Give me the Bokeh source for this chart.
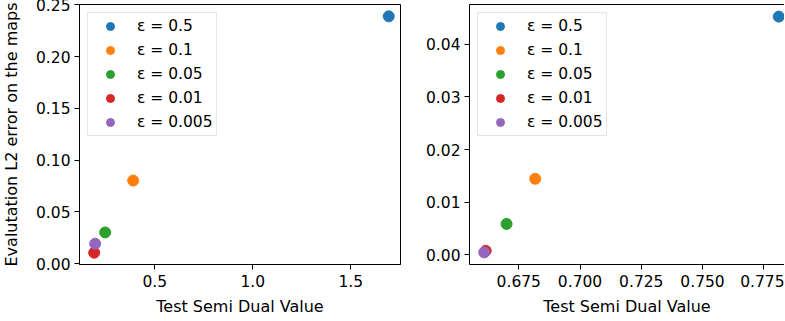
from bokeh.plotting import figure
from bokeh.layouts import row
from bokeh.models import Range1d, FixedTicker, PrintfTickFormatter, Legend, LegendItem, LinearAxis
from bokeh.embed import file_html
from bokeh.resources import INLINE

labels = ["ε = 0.5", "ε = 0.1", "ε = 0.05", "ε = 0.01", "ε = 0.005"]
colors = ["#1f77b4", "#ff7f0e", "#2ca02c", "#d62728", "#9467bd"]

left_x = [1.694, 0.390, 0.247, 0.191, 0.196]
left_y = [0.239, 0.0803, 0.0302, 0.0106, 0.0193]
right_x = [0.7811, 0.6817, 0.6700, 0.6615, 0.6609]
right_y = [0.04526, 0.01444, 0.00586, 0.00076, 0.00045]

left_xticks = [0.5, 1.0, 1.5]
left_yticks = [0.0, 0.05, 0.10, 0.15, 0.20, 0.25]
right_xticks = [0.675, 0.700, 0.725, 0.750, 0.775]
right_yticks = [0.00, 0.01, 0.02, 0.03, 0.04]

xlabel = "Test Semi Dual Value"
ylabel = "Evalutation L2 error on the maps"

FONT = "DejaVu Sans"
TICK_FS = "15.5px"
LAB_FS = "16px"


def style_axis(ax, ticks, fmt):
    ax.ticker = FixedTicker(ticks=ticks)
    ax.formatter = PrintfTickFormatter(format=fmt)
    ax.axis_line_color = "black"
    ax.axis_line_width = 1
    ax.major_tick_line_color = "black"
    ax.major_tick_out = 5
    ax.major_tick_in = 0
    ax.minor_tick_line_color = None
    ax.major_label_standoff = 5
    ax.major_label_text_font = FONT
    ax.major_label_text_font_size = TICK_FS
    ax.major_label_text_color = "black"
    ax.axis_label_text_font = FONT
    ax.axis_label_text_font_size = LAB_FS
    ax.axis_label_text_font_style = "normal"
    ax.axis_label_text_color = "black"
    ax.axis_label_standoff = 7


def make_fig(xs, ys, xr, yr, xticks, yticks, xfmt, yfmt, fw, bl, br, ylab, outline):
    p = figure(frame_width=fw, frame_height=260, x_range=Range1d(*xr), y_range=Range1d(*yr),
               output_backend="svg", toolbar_location=None,
               min_border_left=bl, min_border_right=br, min_border_top=6, min_border_bottom=0)
    p.grid.visible = False
    p.background_fill_color = "white"
    p.border_fill_color = "white"
    xax = p.below[0]
    yax = p.left[0]
    style_axis(xax, xticks, xfmt)
    style_axis(yax, yticks, yfmt)
    yax.major_label_standoff = 4
    xax.axis_label = xlabel
    if ylab:
        yax.axis_label = ylab
        yax.axis_label_standoff = 12
    if outline:
        p.outline_line_color = "black"
        p.outline_line_width = 1
    else:
        p.outline_line_color = None
        top = LinearAxis(ticker=FixedTicker(ticks=[]))
        top.axis_line_color = "black"
        top.major_tick_line_color = None
        top.minor_tick_line_color = None
        top.major_label_text_font_size = "0px"
        top.major_label_standoff = 0
        top.major_tick_out = 0
        top.major_tick_in = 0
        p.add_layout(top, "above")
    items = []
    for x, y, c, l in zip(xs, ys, colors, labels):
        r = p.scatter([x], [y], size=11, fill_color=c, line_color=c)
        items.append(LegendItem(label=l, renderers=[r]))
    leg = Legend(items=items, location="top_left")
    leg.margin = 8
    leg.padding = 3
    leg.spacing = 4
    leg.glyph_width = 38
    leg.glyph_height = 20
    leg.label_height = 20
    leg.label_standoff = 8
    leg.label_text_font = FONT
    leg.label_text_font_size = TICK_FS
    leg.label_text_color = "black"
    leg.border_line_color = "#cccccc"
    leg.border_line_width = 1
    leg.background_fill_color = "white"
    leg.background_fill_alpha = 0.8
    p.add_layout(leg)
    return p


p1 = make_fig(left_x, left_y, (0.116, 1.754), (-0.0008, 0.2504), left_xticks, left_yticks,
              "%.1f", "%.2f", 321, 77, 10, ylabel, True)
p2 = make_fig(right_x, right_y, (0.65488, 0.78345), (-0.00185, 0.04756), right_xticks, right_yticks,
              "%.3f", "%.2f", 315, 59, 0, None, False)

layout = row(p1, p2, margin=(-2, 0, -8, -2))
open("out.html", "w").write(file_html(layout, INLINE))
